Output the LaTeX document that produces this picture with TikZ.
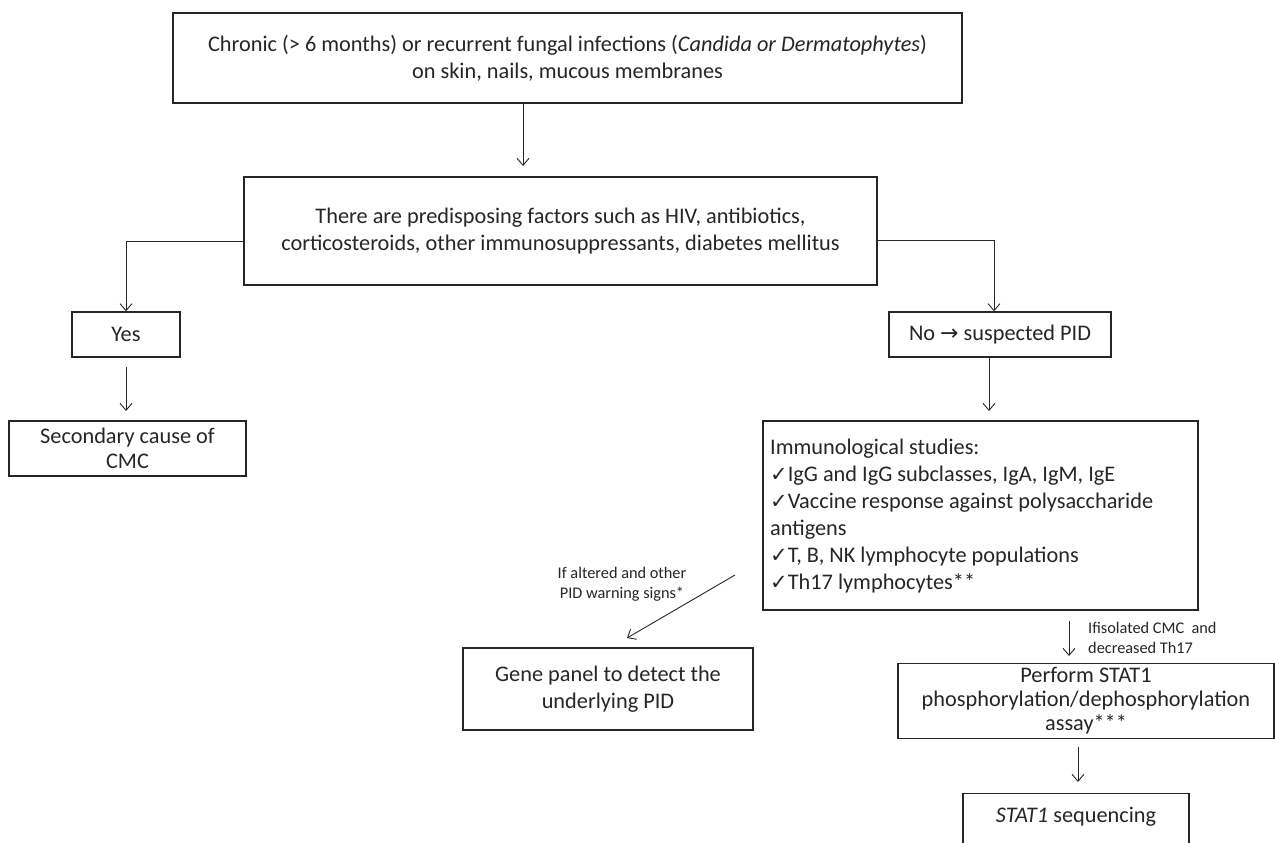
\documentclass[tikz,border=0pt]{standalone}
\usepackage{fontspec}
\setmainfont{Carlito}
\newfontfamily\dejavu{DejaVu Sans}
\usetikzlibrary{arrows.meta}
\newcommand{\chk}{{\dejavu\fontsize{21}{21}\selectfont ✓}}
\newcommand{\rarr}{{\dejavu\fontsize{22}{22}\selectfont →}}
\newcommand{\mainfs}{\fontsize{22.3}{27}\selectfont}
\newcommand{\smallfs}{\fontsize{16.3}{20.5}\selectfont}
\definecolor{ink}{HTML}{262626}
\tikzset{
  box/.style={draw=ink, line width=1.4pt, inner sep=0pt, align=center, font=\mainfs, text=ink},
  txt/.style={inner sep=0pt, font=\mainfs, text=ink},
  conn/.style={draw=ink, line width=0.9pt, -{Straight Barb[length=7pt,width=12pt,line width=0.9pt]}},
  lbl/.style={font=\smallfs, align=center, text=ink, inner sep=0pt}
}
\begin{document}
\begin{tikzpicture}[x=1pt,y=-1pt]
\clip (0,0) rectangle (1275,843);
\fill[white] (0,0) rectangle (1275,843);
% boxes
\node[box, minimum width=789pt, minimum height=90pt] (b1) at (567.5,58)
  {Chronic (> 6 months) or recurrent fungal infections (\textit{Candida or Dermatophytes})\\on skin, nails, mucous membranes};
\node[box, minimum width=633pt, minimum height=108pt] (b2) at (560.5,231)
  {There are predisposing factors such as HIV, antibiotics,\\corticosteroids, other immunosuppressants, diabetes mellitus};
\node[box, minimum width=108pt, minimum height=45pt] (yes) at (126,334.5) {Yes};
\node[box, minimum width=237pt, minimum height=55pt, font=\fontsize{22.3}{25}\selectfont] (sec) at (127.5,448.5) {Secondary cause of\\CMC};
\node[box, minimum width=222pt, minimum height=45pt] (no) at (1000,334.5) {No \rarr\ suspected PID};
\node[box, minimum width=435pt, minimum height=189pt] (imm) at (980.5,515.5) {};
\node[txt, anchor=west, align=left, font=\fontsize{22.3}{27}\selectfont] (immt) at (770,516)
  {Immunological studies:\\
   \chk IgG and IgG subclasses, IgA, IgM, IgE\\
   \chk Vaccine response against polysaccharide\\
   antigens\\
   \chk T, B, NK lymphocyte populations\\
   \chk Th17 lymphocytes**};
\node[box, minimum width=290pt, minimum height=82pt] (gene) at (608,689) {Gene panel to detect the\\underlying PID};
\node[box, minimum width=376pt, minimum height=75pt, font=\fontsize{22.3}{24}\selectfont] (stat) at (1086,701)
  {Perform STAT1\\phosphorylation/dephosphorylation\\assay***};
\node[box, minimum width=226pt, minimum height=80pt, anchor=north] (seq) at (1076,793) {};
\node[txt] (seqt) at (1076,817) {\textit{STAT1} sequencing};
% labels
\node[lbl] (l1) at (622,584) {If altered and other\\PID warning signs*};
\node[lbl, anchor=west, align=left] (l2) at (1088,638) {Ifisolated CMC\ \ and\\decreased Th17};
% connector coordinates
\coordinate (a1) at (523,166);
\coordinate (yb) at (126,367);
\coordinate (ye) at (126,411);
\coordinate (nb) at (989,357);
\coordinate (ne) at (989,411);
\coordinate (d0) at (735,575);
\coordinate (d1) at (627,638);
\coordinate (i0) at (1069,621);
\coordinate (i1) at (1069,656);
\coordinate (s0) at (1078,747);
\coordinate (s1) at (1078,782);
\coordinate (lj) at (126,241);
\coordinate (rj) at (994,240);
% connectors
\draw[conn] (b1.south -| a1) -- (a1);
\draw[conn] (b2.west |- lj) -- (lj) -- (yes.north -| lj);
\draw[conn] (b2.east |- rj) -- (rj) -- (no.north -| rj);
\draw[conn] (yb) -- (ye);
\draw[conn] (no.south -| nb) -- (ne);
\draw[conn] (d0) -- (d1);
\draw[conn] (i0) -- (i1);
\draw[conn] (s0) -- (s1);
\end{tikzpicture}
\end{document}
